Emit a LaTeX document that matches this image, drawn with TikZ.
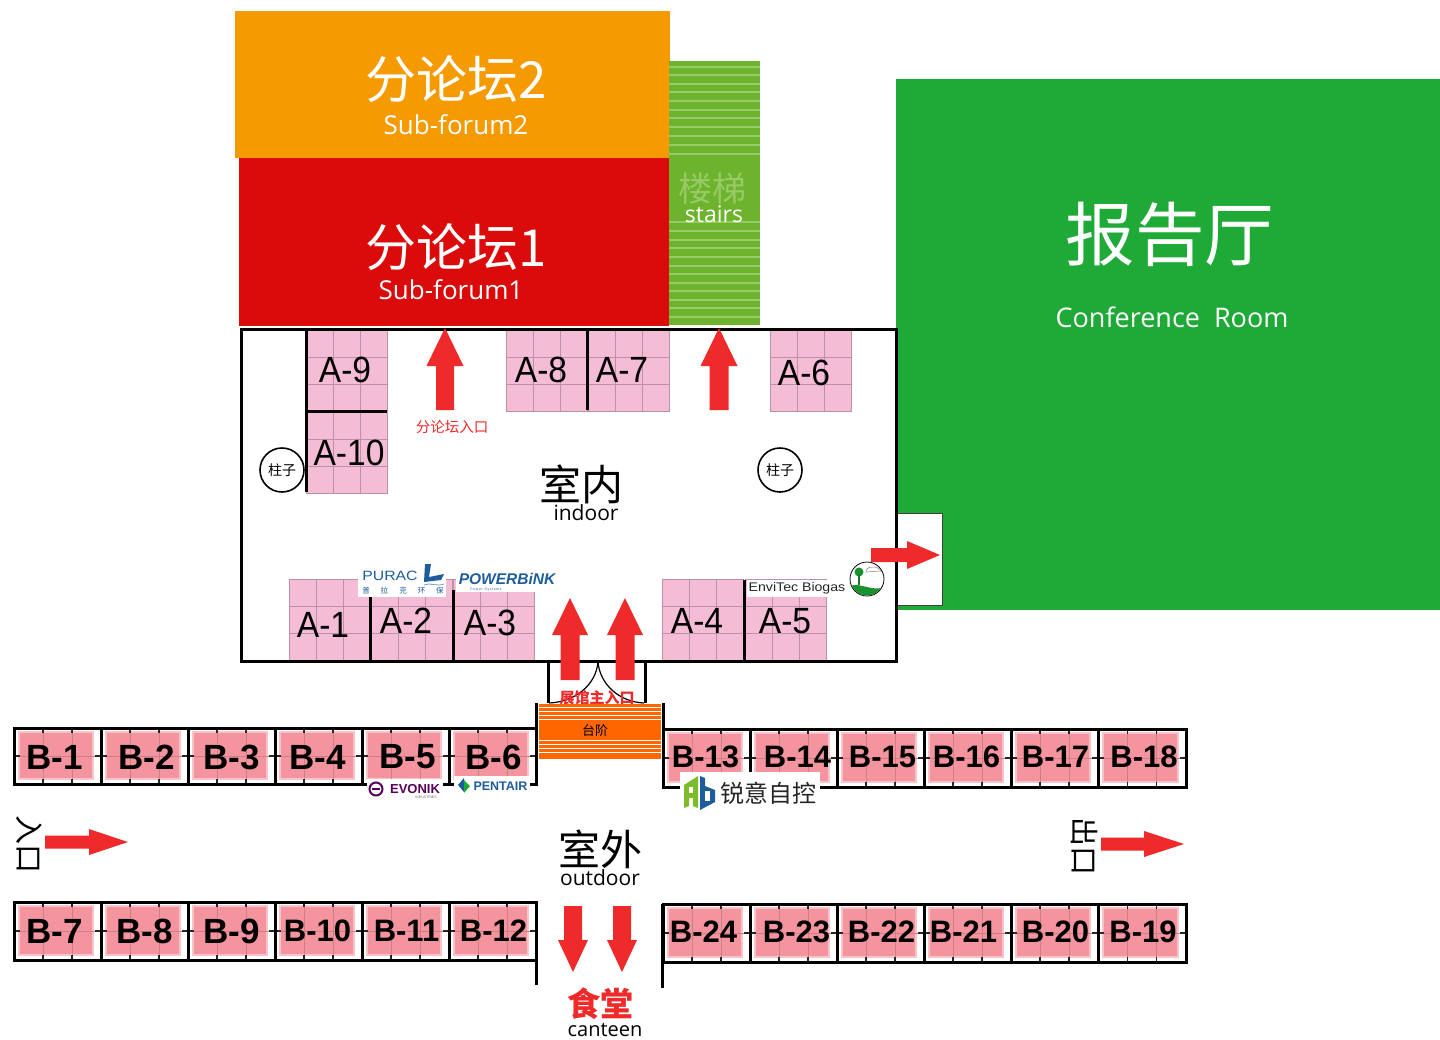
\documentclass[tikz,border=0pt]{standalone}
\usepackage{fontspec}
\setmainfont{Open Sans}
\newfontfamily\cjk{Noto Sans CJK SC}
\newfontfamily\arialf{Liberation Sans}
\newcommand{\fsz}[1]{\fontsize{#1}{#1}\selectfont}
\definecolor{arrowred}{HTML}{EE2A2B}
\definecolor{pinkA}{HTML}{F5BCD6}
\definecolor{gridA}{HTML}{BE8FA8}
\definecolor{pinkB}{HTML}{F4949E}
\definecolor{softB}{HTML}{F9C4C9}
\definecolor{roomgreen}{HTML}{1FAA37}
\definecolor{stairgreen}{HTML}{6DB32E}
\definecolor{stairline}{HTML}{98CA66}
\definecolor{forumorange}{HTML}{F59A00}
\definecolor{forumred}{HTML}{DB0B0B}
\definecolor{steporange}{HTML}{FF6600}
\definecolor{logoblue}{HTML}{1F5C9E}
\tikzset{
  txt/.style={inner sep=0pt,outer sep=0pt,align=center},
  wall/.style={draw=black,line width=3pt},
  thinwall/.style={draw=black,line width=3pt},
  tick/.style={draw=black!85,line width=1.6pt},
  pillar/.style={circle,draw=black,line width=1.6pt,fill=white,minimum size=44pt,inner sep=0pt},
  redarrow/.style={fill=arrowred,draw=none},
  whitebox/.style={fill=white,draw=none},
}
% A booth: name, x0, y0, label, label dx, label dy
\newcommand{\boothA}[6]{%
  \fill[pinkA] (#2,#3) rectangle ++(81,81);
  \draw[gridA,line width=.8pt] (#2,#3) rectangle ++(81,81)
    (#2+27,#3) -- ++(0,81) (#2+54,#3) -- ++(0,81)
    (#2,#3+27) -- ++(81,0) (#2,#3+54) -- ++(81,0);
  \node[txt,text=black,font=\arialf\fsz{36.5},xscale=.92] (#1) at (#2+40+#5,#3+40+#6) {#4};
}
% B booth: name, x0, y0, width, height, label, size, label dx, label dy
\newcommand{\boothB}[9]{%
  \fill[pinkB,draw=softB,line width=1.5pt] (#2+5,#3+4) rectangle (#2+#4-8,#3+#5-5);
  \draw[pinkB!85!black,line width=.6pt] (#2+#4/3,#3) -- ++(0,#5) (#2+2*#4/3,#3) -- ++(0,#5)
    (#2,#3+#5/2) -- ++(#4,0);
  \draw[tick] (#2+#4/3,#3) -- ++(0,5) (#2+2*#4/3,#3) -- ++(0,5)
    (#2+#4/3,#3+#5) -- ++(0,-5) (#2+2*#4/3,#3+#5) -- ++(0,-5)
    (#2,#3+#5/2) -- ++(6,0) (#2+#4,#3+#5/2) -- ++(-6,0);
  \draw[thinwall] (#2,#3) rectangle ++(#4,#5);
  \node[txt,text=black,font=\arialf\bfseries\fsz{#7}] (#1) at (#2+#4/2-3+#8,#3+#5/2+1+#9) {#6};
}
% Vertical arrow: tip x, tip y, head half width, head base y, shaft half width, tail y
\newcommand{\vertarr}[6]{\fill[redarrow] (#1,#2) -- (#1+#3,#4) -- (#1+#5,#4) -- (#1+#5,#6) -- (#1-#5,#6) -- (#1-#5,#4) -- (#1-#3,#4) -- cycle;}
% Right arrow: tail x, cy, shaft half height, head base x, head half height, tip x
\newcommand{\rightarr}[6]{\fill[redarrow] (#1,#2-#3) -- (#4,#2-#3) -- (#4,#2-#5) -- (#6,#2) -- (#4,#2+#5) -- (#4,#2+#3) -- (#1,#2+#3) -- cycle;}
\begin{document}
\begin{tikzpicture}[x=1pt,y=-1pt]
\useasboundingbox (0,0) rectangle (1440,1039);
\fill[white] (0,0) rectangle (1440,1039);

% --- rooms ---
\fill[forumorange] (235,11) rectangle (670,158);
\fill[forumred] (239,158) rectangle (669,326);
\fill[roomgreen] (896,79) rectangle (1440,610);
\fill[stairgreen] (669,61) rectangle (760,325);
\foreach \yy in {67,75,84,92,101,110,118,127,136,145,154,222,231,240,248,257,266,274,283,291,300,308,317}
  \draw[stairline,line width=1.2pt] (669,\yy) -- (760,\yy);
\node[txt,text=white,font=\cjk\fsz{51}] (f2zh) at (456,79) {分论坛2};
\node[txt,text=white,font=\fsz{26}] (f2en) at (456,125) {Sub-forum2};
\node[txt,text=white,font=\cjk\fsz{51}] (f1zh) at (456,247) {分论坛1};
\node[txt,text=white,font=\fsz{26}] (f1en) at (451,290) {Sub-forum1};
\node[txt,text=stairline,font=\cjk\fsz{34}] (stzh) at (712,189) {楼梯};
\node[txt,text=white,font=\fsz{23}] (sten) at (714,214) {stairs};
\node[txt,text=white,font=\cjk\fsz{69.5}] (rzh) at (1170,234) {报告厅};
\node[txt,text=white,font=\fsz{27}] (ren) at (1172,317) {Conference\ \ Room};

% --- side door ---
\fill[white] (897,513) rectangle (942,605);
\draw[black!75,line width=1pt] (897,513) -- (942,513) -- (942,605) -- (897,605);
\fill[roomgreen] (897,607) rectangle (942,610);

% --- booths A ---
\boothA{a9}{306}{330}{A-9}{-1}{0}
\boothA{a10}{306}{412}{A-10}{3}{1}
\boothA{a8}{506}{330}{A-8}{-5}{0}
\boothA{a7}{588}{330}{A-7}{-6}{0}
\boothA{a6}{770}{330}{A-6}{-6}{3}
\boothA{a1}{289}{579}{A-1}{-6}{6}
\boothA{a2}{371}{579}{A-2}{-5}{2}
\boothA{a3}{453}{579}{A-3}{-3}{4}
\boothA{a4}{662}{579}{A-4}{-5}{2}
\boothA{a5}{745}{579}{A-5}{0}{2}

% --- hall walls ---
\draw[wall] (241,329) rectangle (896,661);
\draw[wall] (306,330) -- (306,492);
\draw[wall] (306,411.5) -- (387,411.5);
\draw[wall] (587.5,330) -- (587.5,410);
\draw[wall] (370.5,597) -- (370.5,660);
\draw[wall] (453,590) -- (453,660);
\draw[wall] (744.5,580) -- (744.5,660);

% --- pillars ---
\node[pillar,font=\cjk\fsz{14}] (p1) at (282,470) {柱子};
\node[pillar,font=\cjk\fsz{14}] (p2) at (780,470) {柱子};

% --- centre labels ---
\node[txt,font=\cjk\fsz{42}] (inzh) at (581,484) {室内};
\node[txt,font=\fsz{21}] (inen) at (586,513) {indoor};
\node[txt,text=arrowred,font=\cjk\fsz{14.5}] (fe) at (452,427) {分论坛入口};

% --- entrance ---
\draw[thinwall] (548,661) -- (548,703);
\draw[thinwall] (645,661) -- (645,703);
\fill[white] (549.5,663) rectangle (643.5,703);
\vertarr{570}{598}{18}{635}{9.5}{680}
\vertarr{625}{598}{18}{635}{9.5}{680}
\draw[black,line width=1.2pt] (598,662) .. controls (596,685) and (575,702) .. (549,703);
\draw[black,line width=1.2pt] (598,662) .. controls (600,685) and (620,702) .. (644,703);
\node[txt,text=arrowred,font=\cjk\bfseries\fsz{15}] (mainent) at (597,698) {展馆主入口};
\draw[thinwall] (536.5,703) -- (536.5,785);
\draw[thinwall] (663,703) -- (663,787);

% --- steps ---
\fill[steporange] (539,704) rectangle (661,759);
\foreach \yy in {707,711,715,719,740,744,748,752}
  \draw[white,line width=1pt] (539,\yy) -- (661,\yy);
\node[txt,font=\cjk\fsz{13}] (steps) at (595,731) {台阶};

% --- arrows ---
\vertarr{445}{328}{18.5}{366}{9}{410}
\vertarr{719}{328}{18.5}{366}{9.5}{410}
\rightarr{871}{555}{7}{907}{14}{940}
\rightarr{45}{842}{6.5}{89}{13}{128}
\rightarr{1101}{844}{6.5}{1144}{13}{1184}
\vertarr{573}{972}{15}{940}{9}{906}
\vertarr{622}{972}{15}{940}{9}{906}

% --- booths B, top left ---
\boothB{b1}{14}{728}{87}{56}{B-1}{35}{0}{0}
\boothB{b2}{101}{728}{87}{56}{B-2}{35}{5}{0}
\boothB{b3}{188}{728}{87}{56}{B-3}{35}{3}{0}
\boothB{b4}{275}{728}{87}{56}{B-4}{35}{2}{0}
\boothB{b5}{362}{728}{87}{56}{B-5}{35}{5}{0}
\boothB{b6}{449}{728}{87}{56}{B-6}{35}{4}{0}
% --- booths B, bottom left ---
\boothB{b7}{14}{902}{87}{58}{B-7}{35}{0}{-1}
\boothB{b8}{101}{902}{87}{58}{B-8}{35}{3}{-1}
\boothB{b9}{188}{902}{87}{58}{B-9}{35}{3}{-1}
\boothB{b10}{275}{902}{87}{58}{B-10}{31}{2}{-1}
\boothB{b11}{362}{902}{87}{58}{B-11}{31}{4}{-1}
\boothB{b12}{449}{902}{87}{58}{B-12}{31}{4}{-1}
% --- booths B, top right ---
\boothB{b13}{663}{729}{87}{58}{B-13}{31}{2}{-2}
\boothB{b14}{750}{729}{87}{58}{B-14}{31}{7}{-2}
\boothB{b15}{837}{729}{87}{58}{B-15}{31}{5}{-2}
\boothB{b16}{924}{729}{87}{58}{B-16}{31}{2}{-2}
\boothB{b17}{1011}{729}{87}{58}{B-17}{31}{4}{-2}
\boothB{b18}{1098}{729}{88}{58}{B-18}{31}{5}{-2}
% --- booths B, bottom right ---
\boothB{b24}{663}{904}{87}{58}{B-24}{31}{0}{-2}
\boothB{b23}{750}{904}{87}{58}{B-23}{31}{6}{-2}
\boothB{b22}{837}{904}{87}{58}{B-22}{31}{4}{-2}
\boothB{b21}{924}{904}{87}{58}{B-21}{31}{-1}{-2}
\boothB{b20}{1011}{904}{87}{58}{B-20}{31}{4}{-2}
\boothB{b19}{1098}{904}{88}{58}{B-19}{31}{4}{-2}
\draw[thinwall] (536.5,902) -- (536.5,985);
\draw[thinwall] (662.5,904) -- (662.5,988);

% --- outdoor labels ---
\node[txt,font=\cjk\fsz{42}] (outzh) at (600,849) {室外};
\node[txt,font=\fsz{21}] (outen) at (600,878) {outdoor};
\node[txt,font=\cjk\fsz{29},rotate=-90] (entry) at (29,844) {入口};
\node[txt,font=\cjk\fsz{29},rotate=-90] (exit) at (1085,846) {出口};
\node[txt,text=arrowred,font=\cjk\bfseries\fsz{33}] (canzh) at (600,1004) {食堂};
\node[txt,font=\fsz{20}] (canen) at (605,1030) {canteen};

% --- logos ---
\fill[whitebox] (358,563) rectangle (446,597);
\node[txt,text=logoblue,font=\arialf\fsz{13.5},xscale=1.17] (purac) at (390,576) {PURAC};
\fill[logoblue] (425,564) -- (431,564) -- (429,577) -- (444,574) -- (441,580) -- (424,582) -- cycle;
\draw[logoblue!60,line width=.8pt] (424,585) .. controls (430,582) and (436,587) .. (444,584);
\node[txt,text=logoblue,font=\cjk\fsz{7.5}] (puraczh) at (403,591) {普\hspace{11pt}拉\hspace{11pt}克\hspace{11pt}环\hspace{11pt}保};
\fill[whitebox] (456,570) rectangle (556,592);
\node[txt,text=logoblue,font=\arialf\bfseries\itshape\fsz{15.5}] (powerbink) at (507,579) {POWERBiNK};
\node[txt,text=logoblue,font=\arialf\fsz{3.5}] (powersys) at (486,590) {P\,o\,w\,e\,r\ \ S\,y\,s\,t\,e\,m\,s};
\fill[whitebox] (747,580) rectangle (848,597);
\node[txt,text=black!85,font=\arialf\fsz{12.5},xscale=1.13] (envitec) at (797,588) {EnviTec Biogas};
\draw[black,fill=white,line width=.8pt] (867,579) circle (17);
\begin{scope}
  \clip (867,579) circle (16.5);
  \fill[roomgreen!85!black] (850,586) .. controls (860,582) and (872,592) .. (884,587) -- (884,597) -- (850,597) -- cycle;
\end{scope}
\fill[roomgreen!85!black] (859,572) circle (4.5);
\draw[roomgreen!70!black,line width=1.2pt] (859,575) -- (859,585);
\draw[black!50,line width=.5pt] (866,572) .. controls (865,566) and (878,565) .. (881,571) -- cycle;

\fill[whitebox] (367,779) rectangle (443,800);
\draw[violet!70!black,line width=2pt,fill=white] (376,789) circle (6.5);
\fill[violet!70!black] (372,788) rectangle (380,790);
\node[txt,text=violet!70!black,font=\arialf\bfseries\fsz{13}] (evonik) at (415,789) {EVONIK};
\node[txt,text=black!60,font=\arialf\fsz{3.5}] (evind) at (426,797) {INDUSTRIES};
\fill[whitebox] (454,776) rectangle (530,797);
\fill[logoblue] (458,785) -- (464,778) -- (464,792) -- cycle;
\fill[roomgreen] (464,780) -- (470,786) -- (464,793) -- cycle;
\node[txt,text=logoblue,font=\arialf\bfseries\fsz{12.5}] (pentair) at (500.5,786) {PENTAIR};

\fill[whitebox] (680,772) rectangle (820,811);
\fill[stairgreen!90!yellow] (684,808) -- (684,785) -- (698,776) -- (698,808) -- (693,806) -- (693,798) -- (689,798) -- (689,806) -- cycle;
\fill[logoblue] (700,776) -- (705,778) -- (705,786) -- (715,790) -- (715,802) -- (700,810) -- cycle;
\fill[white] (689,787) rectangle (693,793);
\fill[white] (705,791) rectangle (710,801);
\node[txt,text=black!85,font=\cjk\fsz{24}] (ruiyi) at (768,793) {锐意自控};
\end{tikzpicture}
\end{document}
